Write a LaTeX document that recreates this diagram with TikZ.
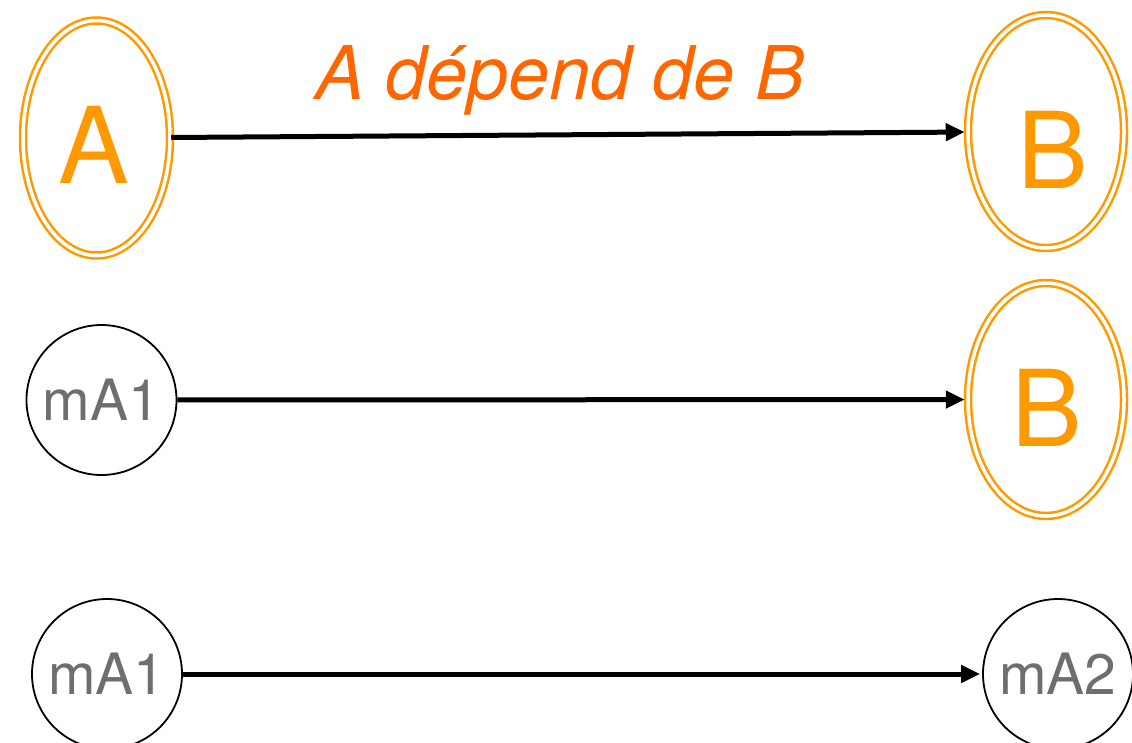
\documentclass[tikz,border=0pt]{standalone}
\usepackage{fontspec}
\setmainfont{TeX Gyre Heros}
\usetikzlibrary{shapes.geometric,arrows.meta}
\definecolor{ellorange}{RGB}{255,153,0}
\definecolor{titleorange}{RGB}{255,102,0}
\definecolor{txtgray}{RGB}{110,110,110}
\begin{document}
\begin{tikzpicture}[x=1pt,y=-1pt,
  dep/.style={ellipse,draw=ellorange,double=white,double distance=3.5pt,line width=2.5pt,inner sep=0pt},
  bigtxt/.style={text=ellorange,font=\fontsize{106}{106}\selectfont,inner sep=0pt},
  modcirc/.style={circle,draw=black,line width=1.8pt,minimum size=150pt,inner sep=0pt,text=txtgray,font=\fontsize{57}{57}\selectfont},
  link/.style={-{Triangle[length=19pt,width=17pt]},line width=5pt,shorten >=2pt}]
\useasboundingbox (0,0) rectangle (1132,742);
% row 1
\node[dep,minimum width=147pt,minimum height=235pt] (A) at (96.5,138) {};
\node[bigtxt] (tA) at (94,145) {A};
\node[dep,minimum width=156pt,minimum height=233pt] (B) at (1046,131.5) {};
\node[bigtxt] (tB) at (1053,150) {B};
\node[anchor=base,text=titleorange,font=\itshape\fontsize{74}{74}\selectfont,inner sep=0pt] (title) at (560,99) {A dépend de B};
\draw[link] (A) -- (B);
% row 2
\node[modcirc] (m1) at (101.5,400) {mA1};
\node[dep,minimum width=156pt,minimum height=233pt] (B2) at (1046,399.5) {};
\node[bigtxt] (tB2) at (1047,408) {B};
\draw[link] (m1) -- (B2);
% row 3
\node[modcirc] (m1b) at (107,674) {mA1};
\node[modcirc] (m2) at (1058,674) {mA2};
\draw[link] (m1b) -- (m2);
\end{tikzpicture}
\end{document}
